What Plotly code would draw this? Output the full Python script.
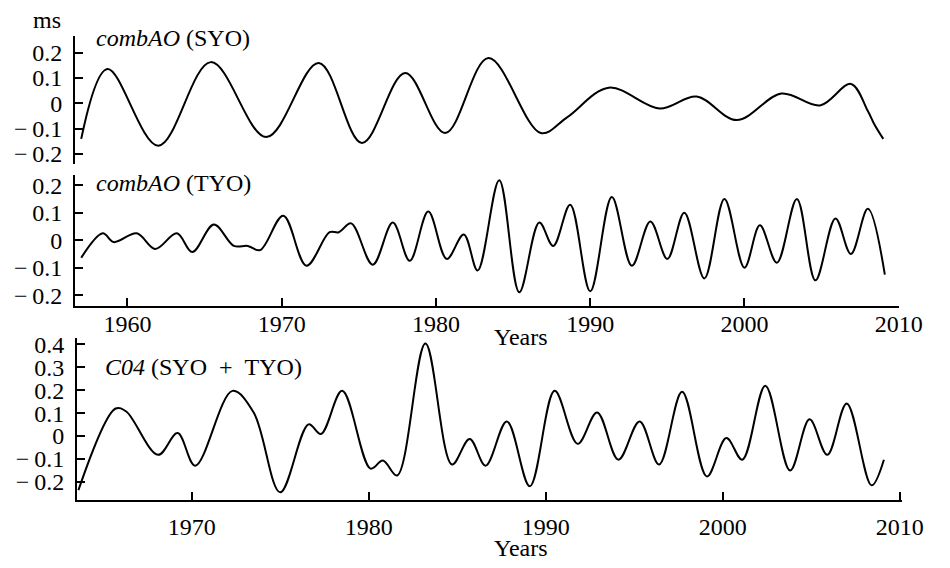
import plotly.graph_objects as go

# ---- data ----
syo_years = [1957.0, 1958.7, 1962.0, 1965.4, 1969.0, 1972.4, 1975.2, 1978.0, 1980.6, 1983.4,
             1986.8, 1988.5, 1991.2, 1994.5, 1996.9, 1999.5, 2002.4, 2004.9, 2006.9, 2008.0,
             2008.4, 2009.0]
syo_vals = [-0.14, 0.136, -0.167, 0.163, -0.133, 0.16, -0.156, 0.12, -0.117, 0.179,
            -0.117, -0.055, 0.062, -0.02, 0.027, -0.066, 0.039, -0.008, 0.077, -0.03,
            -0.08, -0.14]

tyo_years = [1957.0, 1958.4, 1959.1, 1960.6, 1961.8, 1963.2, 1964.2, 1965.6, 1966.9, 1967.8,
             1968.6, 1970.1, 1971.6, 1973.1, 1973.7, 1974.5, 1975.9, 1977.2, 1978.3, 1979.5,
             1980.7, 1981.8, 1982.7, 1984.1, 1985.4, 1986.7, 1987.6, 1988.7, 1990.0, 1991.4,
             1992.7, 1993.9, 1995.0, 1996.1, 1997.4, 1998.7, 2000.0, 2001.0, 2002.1, 2003.4,
             2004.6, 2005.9, 2006.9, 2008.0, 2009.1]
tyo_vals = [-0.064, 0.025, -0.007, 0.025, -0.032, 0.025, -0.043, 0.057, -0.021, -0.021,
            -0.036, 0.089, -0.093, 0.029, 0.029, 0.061, -0.089, 0.064, -0.075, 0.104,
            -0.068, 0.021, -0.11, 0.218, -0.189, 0.064, -0.021, 0.129, -0.186, 0.157,
            -0.093, 0.068, -0.068, 0.1, -0.139, 0.15, -0.1, 0.054, -0.082, 0.15,
            -0.146, 0.079, -0.05, 0.114, -0.125]

c04_years = [1963.6, 1965.7, 1966.3, 1968.1, 1969.2, 1970.2, 1972.3, 1973.5, 1975.0, 1976.6,
             1977.3, 1978.5, 1980.1, 1980.8, 1981.6, 1983.2, 1984.7, 1985.7, 1986.6, 1987.8,
             1989.1, 1990.5, 1991.8, 1992.9, 1994.1, 1995.3, 1996.4, 1997.7, 1999.1, 2000.2,
             2001.1, 2002.4, 2003.8, 2004.9, 2005.9, 2007.0, 2008.4, 2009.1]
c04_vals = [-0.236, 0.12, 0.107, -0.082, 0.013, -0.129, 0.197, 0.103, -0.245, 0.051,
            0.009, 0.197, -0.142, -0.107, -0.172, 0.403, -0.124, -0.013, -0.129, 0.064,
            -0.219, 0.197, -0.034, 0.103, -0.103, 0.064, -0.124, 0.193, -0.176, -0.009,
            -0.103, 0.219, -0.15, 0.073, -0.082, 0.142, -0.215, -0.103]

x_ticks_mid = [1960, 1970, 1980, 1990, 2000, 2010]
x_ticks_bot = [1970, 1980, 1990, 2000, 2010]
y_ticks_small = [-0.2, -0.1, 0, 0.1, 0.2]
y_ticks_big = [-0.2, -0.1, 0, 0.1, 0.2, 0.3, 0.4]

W, H = 950, 568
FONT = "Times New Roman, Liberation Serif, serif"
FS = 24


def px_x(p):
    return p / W


def px_y(p):
    return 1 - p / H


def fmt(v):
    if v == 0:
        return "0"
    s = f"{abs(v):.1f}"
    return ("\u2212\u2009" + s) if v < 0 else s


fig = go.Figure()
line = dict(color="black", width=2, shape="spline", smoothing=1.0)
fig.add_trace(go.Scatter(x=syo_years, y=syo_vals, mode="lines", line=line, xaxis="x", yaxis="y"))
fig.add_trace(go.Scatter(x=tyo_years, y=tyo_vals, mode="lines", line=line, xaxis="x2", yaxis="y2"))
fig.add_trace(go.Scatter(x=c04_years, y=c04_vals, mode="lines", line=line, xaxis="x3", yaxis="y3"))

axcommon = dict(showgrid=False, zeroline=False, showline=True, linecolor="black", linewidth=2,
                ticks="inside", ticklen=8, tickwidth=2, tickcolor="black",
                tickfont=dict(family=FONT, size=FS, color="black"))

fig.update_layout(
    width=W, height=H, margin=dict(l=0, r=0, t=0, b=0),
    paper_bgcolor="white", plot_bgcolor="white", showlegend=False,
    xaxis=dict(domain=[px_x(77), px_x(922)], range=[1956.6, 2010.0], anchor="y", visible=False),
    yaxis=dict(domain=[px_y(161), px_y(30)], range=[-0.241, 0.268], anchor="x",
               tickvals=y_ticks_small, ticktext=[fmt(v) for v in y_ticks_small],
               ticklabelstandoff=6, **axcommon),
    xaxis2=dict(domain=[px_x(77), px_x(922)], range=[1956.6, 2010.0], anchor="y2",
                tickvals=x_ticks_mid, ticklabelstandoff=-5, **axcommon),
    yaxis2=dict(domain=[px_y(305), px_y(172)], range=[-0.24, 0.236], anchor="x2",
                tickvals=y_ticks_small, ticktext=[fmt(v) for v in y_ticks_small],
                ticklabelstandoff=6, **axcommon),
    xaxis3=dict(domain=[px_x(79), px_x(925)], range=[1963.52, 2010.1], anchor="y3",
                tickvals=x_ticks_bot, ticklabelstandoff=4, **axcommon),
    yaxis3=dict(domain=[px_y(502), px_y(337)], range=[-0.279, 0.429], anchor="x3",
                tickvals=y_ticks_big, ticktext=[fmt(v) for v in y_ticks_big],
                ticklabelstandoff=6, **axcommon),
)

ann_font = dict(family=FONT, size=FS, color="black")
annotations = [
    dict(text="ms", x=px_x(48), y=px_y(14), xanchor="center", yanchor="middle"),
    dict(text="<i>combAO</i> (SYO)", x=px_x(96), y=px_y(33), xanchor="left", yanchor="middle"),
    dict(text="<i>combAO</i> (TYO)", x=px_x(96), y=px_y(180), xanchor="left", yanchor="middle"),
    dict(text="<i>C04</i> (SYO\u2002+\u2002TYO)", x=px_x(106), y=px_y(367), xanchor="left", yanchor="middle"),
    dict(text="Years", x=px_x(535), y=px_y(336), xanchor="center", yanchor="middle"),
    dict(text="Years", x=px_x(535), y=px_y(551), xanchor="center", yanchor="middle"),
]
for a in annotations:
    a.update(xref="paper", yref="paper", showarrow=False, font=ann_font)
fig.update_layout(annotations=annotations)

fig.write_html("out.html")
